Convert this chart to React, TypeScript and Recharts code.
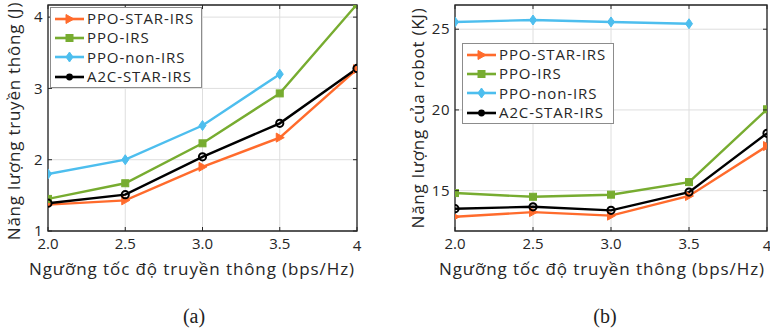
import React from 'react';
import { LineChart, Line, XAxis, YAxis, CartesianGrid, ReferenceArea, Legend } from 'recharts';

const xValues = [2.0, 2.5, 3.0, 3.5, 4];
const xTickLabels = ['2.0', '2.5', '3.0', '3.5', '4'];
const seriesNames = ['PPO-STAR-IRS', 'PPO-IRS', 'PPO-non-IRS', 'A2C-STAR-IRS'];

const commStar = [1.37, 1.43, 1.9, 2.31, 3.27];
const commIrs = [1.45, 1.67, 2.23, 2.93, 4.18];
const commNon: (number | null)[] = [1.8, 2.0, 2.48, 3.2, null];
const commA2c = [1.39, 1.51, 2.04, 2.51, 3.28];
const commTicks = [1, 2, 3, 4];

const robStar = [13.38, 13.67, 13.45, 14.67, 17.76];
const robIrs = [14.85, 14.62, 14.75, 15.53, 20.04];
const robNon: (number | null)[] = [25.45, 25.57, 25.45, 25.34, null];
const robA2c = [13.88, 14.0, 13.78, 14.91, 18.55];
const robTicks = [15, 20, 25];

const ORANGE = '#FF6B2C';
const GREEN = '#77AC30';
const BLUE = '#4DBEEE';
const BLACK = '#000000';
const COLORS = [ORANGE, GREEN, BLUE, BLACK];
const FONT = '"Open Sans", sans-serif';
const SERIF = '"Liberation Serif", "DejaVu Serif", serif';
const TEXT = '#262626';

const build = (a: any[], b: any[], c: any[], d: any[]) =>
  xValues.map((x, i) => ({ x, s0: a[i], s1: b[i], s2: c[i], s3: d[i] }));

const commData = build(commStar, commIrs, commNon, commA2c);
const robData = build(robStar, robIrs, robNon, robA2c);

function Marker({ kind, cx, cy }: { kind: number; cx: number; cy: number }) {
  if (cx == null || cy == null || isNaN(cx) || isNaN(cy)) return null;
  if (kind === 0) {
    return <polygon points={`${cx - 3.5},${cy - 4.5} ${cx + 4.5},${cy} ${cx - 3.5},${cy + 4.5}`} fill={ORANGE} stroke={ORANGE} strokeWidth={1} />;
  }
  if (kind === 1) {
    return <rect x={cx - 3.5} y={cy - 3.5} width={7} height={7} fill={GREEN} stroke={GREEN} />;
  }
  if (kind === 2) {
    return <polygon points={`${cx},${cy - 5} ${cx + 3.5},${cy} ${cx},${cy + 5} ${cx - 3.5},${cy}`} fill={BLUE} stroke={BLUE} />;
  }
  return <circle cx={cx} cy={cy} r={3.6} fill="none" stroke={BLACK} strokeWidth={2} />;
}

const makeDot = (kind: number) => (p: any) => <Marker key={`${kind}-${p.index}`} kind={kind} cx={p.cx} cy={p.cy} />;

function LegendBox() {
  return (
    <div style={{ border: '1px solid #8c8c8c', background: '#fff', padding: '1px 7px 1px 3px', fontFamily: FONT, fontSize: 15, letterSpacing: 0.9, color: TEXT, boxSizing: 'border-box' }}>
      {seriesNames.map((n, i) => (
        <div key={n} style={{ display: 'flex', alignItems: 'center', height: 19.3 }}>
          <svg width={31} height={12} style={{ marginRight: 2 }}>
            <line x1={1} y1={6} x2={30} y2={6} stroke={COLORS[i]} strokeWidth={2.6} />
            {i === 3 ? <circle cx={15.5} cy={6} r={3.4} fill={BLACK} /> : <Marker kind={i} cx={15.5} cy={6} />}
          </svg>
          <span style={{ lineHeight: '19px', whiteSpace: 'nowrap' }}>{n}</span>
        </div>
      ))}
    </div>
  );
}

function makeXTick(top: number) {
  return (p: any) => {
    const { x, y, payload, index } = p;
    return (
      <g>
        <line x1={x} y1={y} x2={x} y2={y - 4} stroke="#262626" />
        <line x1={x} y1={top} x2={x} y2={top + 4} stroke="#262626" />
        <text x={x} y={y + 18} textAnchor="middle" fontFamily={FONT} fontSize={15} fill={TEXT} dy={index === 4 ? 2 : 0}>
          {xTickLabels[xValues.indexOf(payload.value)]}
        </text>
      </g>
    );
  };
}

function makeYTick(right: number) {
  return (p: any) => {
    const { x, y, payload } = p;
    return (
      <g>
        <line x1={x} y1={y} x2={x + 4} y2={y} stroke="#262626" />
        <line x1={right} y1={y} x2={right - 4} y2={y} stroke="#262626" />
        <text x={x - 5} y={y} dy="0.35em" textAnchor="end" fontFamily={FONT} fontSize={15} letterSpacing={0.5} fill={TEXT}>
          {payload.value}
        </text>
      </g>
    );
  };
}

function Panel({ data, domain, ticks, yWidth, width, right, legendPos }: any) {
  const top = 5;
  const plotRight = width - right;
  return (
    <LineChart width={width} height={331} data={data} margin={{ top, right, bottom: 0, left: 0 }}>
      <CartesianGrid stroke="#dedede" strokeWidth={1} />
      <XAxis dataKey="x" type="number" domain={[2, 4]} ticks={xValues} allowDataOverflow axisLine={false} tickLine={false} tickSize={0} tickMargin={0} height={100} tick={makeXTick(top)} interval={0} />
      <YAxis type="number" domain={domain} ticks={ticks} allowDataOverflow axisLine={false} tickLine={false} tickSize={0} tickMargin={0} width={yWidth} tick={makeYTick(plotRight)} interval={0} />
      {[0, 1, 2, 3].map((k) => (
        <Line key={k} dataKey={`s${k}`} stroke={COLORS[k]} strokeWidth={2.4} dot={makeDot(k)} activeDot={false} isAnimationActive={false} connectNulls={false} />
      ))}
      <ReferenceArea x1={2} x2={4} y1={domain[0]} y2={domain[1]} fill="none" stroke="#262626" strokeWidth={1.3} ifOverflow="visible" />
      <Legend layout="vertical" align="center" verticalAlign="middle" content={() => <LegendBox />} wrapperStyle={{ left: legendPos[0], top: legendPos[1], width: 'auto', bottom: 'auto', right: 'auto' }} />
    </LineChart>
  );
}

export default function App() {
  return (
    <div style={{ position: 'absolute', left: 0, top: 0, width: 770, height: 331, background: '#fff' }}>
      <div style={{ position: 'absolute', left: 0, top: 0 }}>
        <Panel data={commData} domain={[1, 4.17]} ticks={commTicks} yWidth={48} width={390} right={33} legendPos={[50, 7]} />
      </div>
      <div style={{ position: 'absolute', left: 390, top: 0 }}>
        <Panel data={robData} domain={[12.5, 26.5]} ticks={robTicks} yWidth={65} width={380} right={3} legendPos={[72, 43]} />
      </div>
      <svg width={770} height={331} style={{ position: 'absolute', left: 0, top: 0, pointerEvents: 'none' }}>
        <text transform="translate(14,121) rotate(-90)" textAnchor="middle" dy="0.35em" fontFamily={FONT} fontSize={17} letterSpacing={0.75} fill={TEXT}>Năng lượng truyền thông (J)</text>
        <text transform="translate(418,118) rotate(-90)" textAnchor="middle" dy="0.35em" fontFamily={FONT} fontSize={17} letterSpacing={0.75} fill={TEXT}>Năng lượng của robot (KJ)</text>
        <text x={192} y={275} textAnchor="middle" fontFamily={FONT} fontSize={17} letterSpacing={0.9} fill={TEXT}>Ngưỡng tốc độ truyền thông (bps/Hz)</text>
        <text x={602} y={275} textAnchor="middle" fontFamily={FONT} fontSize={17} letterSpacing={0.9} fill={TEXT}>Ngưỡng tốc độ truyền thông (bps/Hz)</text>
        <text x={194} y={323} textAnchor="middle" fontFamily={SERIF} fontSize={20} fill="#222">(a)</text>
        <text x={605} y={323} textAnchor="middle" fontFamily={SERIF} fontSize={20} fill="#222">(b)</text>
      </svg>
    </div>
  );
}
